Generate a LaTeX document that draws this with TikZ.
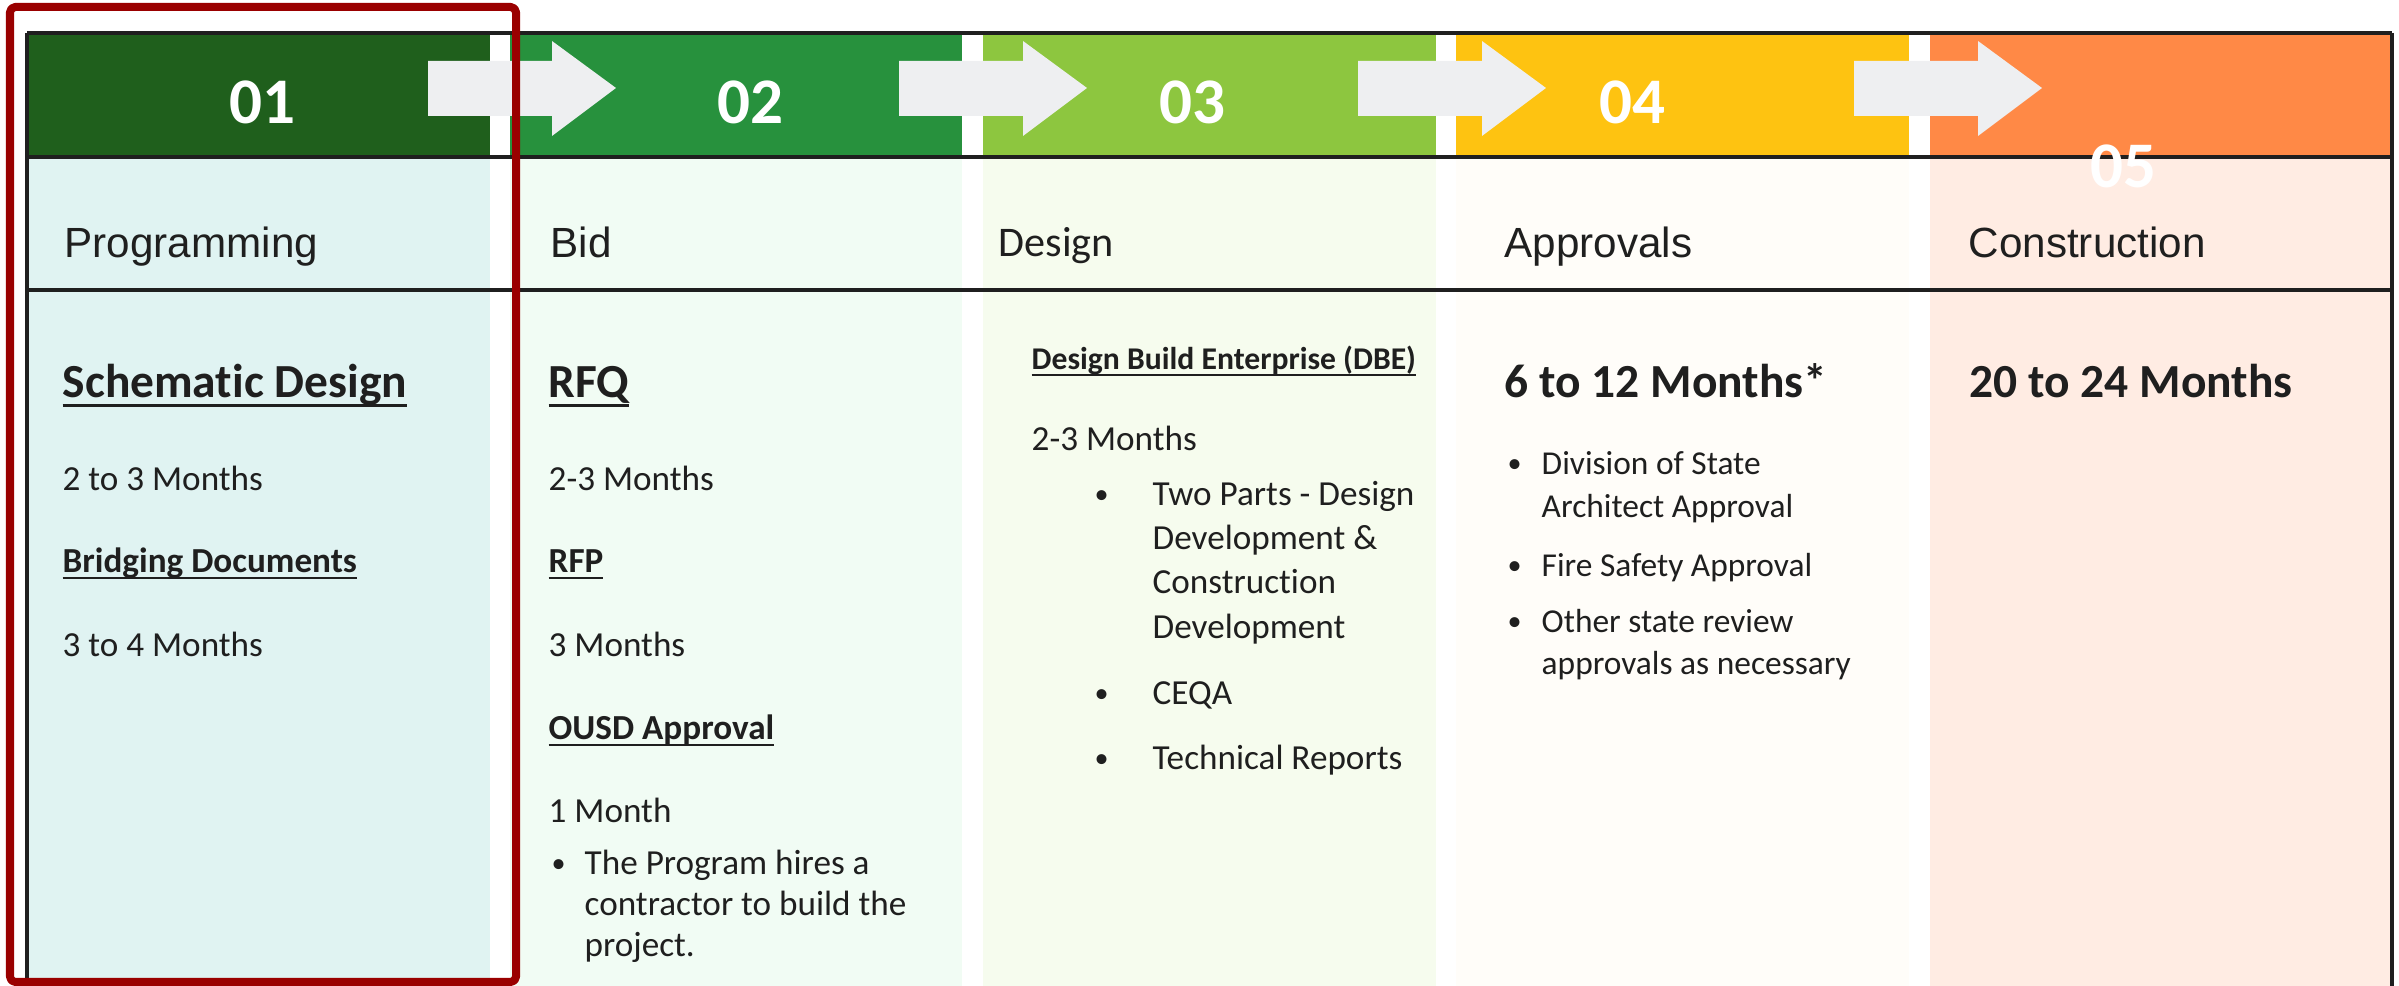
\documentclass[tikz,border=0pt]{standalone}
\usepackage{fontspec}
\setmainfont{Carlito}[Ligatures=NoCommon]
\newfontfamily\arialfont{Liberation Sans}
\definecolor{hdA}{HTML}{1F5F1C}
\definecolor{hdB}{HTML}{27913D}
\definecolor{hdC}{HTML}{8DC63F}
\definecolor{hdD}{HTML}{FEC311}
\definecolor{hdE}{HTML}{FF8946}
\definecolor{bdA}{HTML}{E0F3F2}
\definecolor{bdB}{HTML}{F1FCF4}
\definecolor{bdC}{HTML}{F6FCEE}
\definecolor{bdD}{HTML}{FFFDF9}
\definecolor{bdE}{HTML}{FFECE3}
\definecolor{arrowgray}{HTML}{EEEFF1}
\definecolor{ink}{HTML}{1F1F1F}
\definecolor{markred}{HTML}{9A0000}
\newcommand\ulTxt[1]{\setbox0\hbox{#1}\rlap{\rule[-0.18em]{\wd0}{0.06em}}\box0}
\begin{document}
\begin{tikzpicture}[x=0.01cm,y=-0.01cm,line join=round,
  num/.style={anchor=base,inner sep=0,text=white,font=\fontsize{18.5}{20}\selectfont\bfseries},
  lab/.style={anchor=base west,inner sep=0,text=ink,font=\arialfont\fontsize{12}{14}\selectfont},
  body/.style={anchor=base west,inner sep=0,text=ink,font=\fontsize{10}{12}\selectfont},
  dot/.style={body,font=\fontsize{8}{10}\selectfont},
  subb/.style={body,font=\fontsize{10}{12}\selectfont\bfseries},
  bigb/.style={body,font=\fontsize{13.5}{16}\selectfont\bfseries}]
\def\yt{33} \def\yh{157} \def\yl{290} \def\yb{986}
\useasboundingbox (0,0) rectangle (2399,986);
% columns
\foreach \xa/\xb/\ch/\cb in {27/490/hdA/bdA,510/962/hdB/bdB,983/1436/hdC/bdC,1456/1909/hdD/bdD,1930/2392/hdE/bdE}{
  \fill[\ch] (\xa,\yt) rectangle (\xb,\yh);
  \fill[\cb] (\xa,\yh) rectangle (\xb,\yb);
}
\draw[ink,line width=0.9pt] (27,\yt)--(2392,\yt) (27,\yh)--(2392,\yh) (27,\yl)--(2392,\yl)
  (27,\yt)--(27,\yb) (2392,\yt)--(2392,\yb);
% arrows
\foreach \x in {428,899,1358,1854}
  \fill[arrowgray] (\x,61)--++(124,0)--++(0,-20)--++(64,47)--++(-64,48)--++(0,-20)--++(-124,0)--cycle;
% numbers
\node[num] (n1) at (262,124) {01};
\node[num] (n2) at (750,124) {02};
\node[num] (n3) at (1192,124) {03};
\node[num] (n4) at (1632,124) {04};
\node[num] (n5) at (2123,188) {05};
% phase labels
\node[lab] (l1) at (64,258) {Programming};
\node[lab] (l2) at (550,258) {Bid};
\node[body,font=\fontsize{12}{14}\selectfont] (l3) at (998,257) {Design};
\node[lab] (l4) at (1504,258) {Approvals};
\node[lab] (l5) at (1968,258) {Construction};
% programming
\node[bigb] (sd) at (62,398) {\ulTxt{Schematic Design}};
\node[body] (sdt) at (62,491) {2 to 3 Months};
\node[subb] (bd) at (62,573) {\ulTxt{Bridging Documents}};
\node[body] (bdt) at (62,657) {3 to 4 Months};
% bid
\node[bigb] (rfq) at (548,398) {\ulTxt{RFQ}};
\node[body] (rfqt) at (548,491) {2-3 Months};
\node[subb] (rfp) at (548,573) {\ulTxt{RFP}};
\node[body] (rfpt) at (548,657) {3 Months};
\node[subb] (oa) at (548,740) {\ulTxt{OUSD Approval}};
\node[body] (oat) at (548,823) {1 Month};
\node[dot] (ob) at (551,873) {•};
\node[body] (o1) at (584,875) {The Program hires a};
\node[body] (o2) at (584,916) {contractor to build the};
\node[body] (o3) at (584,957) {project.};
% design
\node[subb,font=\fontsize{9}{11}\selectfont\bfseries] (dbe) at (1031,370) {\ulTxt{Design Build Enterprise (DBE)}};
\node[body] (dbet) at (1031,451) {2-3 Months};
\foreach \y in {504,703,768} \node[dot] at (1094,\y) {•};
\node[body] (d1) at (1152,506) {Two Parts - Design};
\node[body] (d2) at (1152,550) {Development \&};
\node[body] (d3) at (1152,594) {Construction};
\node[body] (d4) at (1152,639) {Development};
\node[body] (d5) at (1152,705) {CEQA};
\node[body] (d6) at (1152,770) {Technical Reports};
% approvals
\node[bigb] (ap) at (1504,398) {6 to 12 Months*};
\foreach \y in {473,575,631} \node[dot] at (1507,\y) {•};
\node[body,font=\fontsize{9.5}{11}\selectfont] (a1) at (1541,475) {Division of State};
\node[body,font=\fontsize{9.5}{11}\selectfont] (a2) at (1541,518) {Architect Approval};
\node[body,font=\fontsize{9.5}{11}\selectfont] (a3) at (1541,577) {Fire Safety Approval};
\node[body,font=\fontsize{9.5}{11}\selectfont] (a4) at (1541,633) {Other state review};
\node[body,font=\fontsize{9.5}{11}\selectfont] (a5) at (1541,675) {approvals as necessary};
% construction
\node[bigb] (co) at (1969,398) {20 to 24 Months};
% highlight
\draw[markred,line width=0.08cm,rounded corners=1.5pt] (10,7) rectangle (516,982);
\end{tikzpicture}
\end{document}
